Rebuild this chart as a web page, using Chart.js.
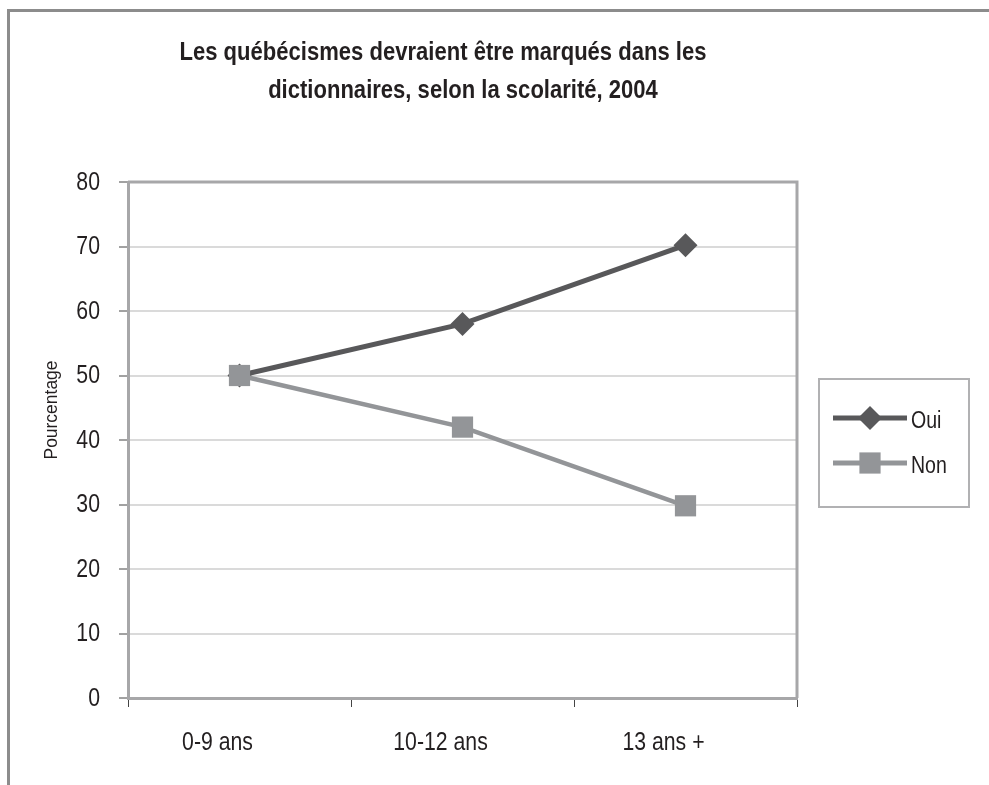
<!DOCTYPE html>
<html>
<head>
<meta charset="utf-8">
<script src="https://cdn.jsdelivr.net/npm/chart.js@4.4.1/dist/chart.umd.min.js"></script>
<style>
  html, body { margin: 0; padding: 0; background: #fff; }
  #wrap { position: relative; width: 989px; height: 785px; overflow: hidden; }
  #frame {
    position: absolute; left: 7px; top: 9px; width: 1100px; height: 900px;
    border-top: 3px solid #8c8c8c; border-left: 3px solid #8c8c8c;
  }
  canvas { position: absolute; left: 0; top: 0; }
</style>
</head>
<body>
<div id="wrap">
  <div id="frame"></div>
  <canvas id="chart" width="989" height="785"></canvas>
</div>
<script>
const categories = ["0-9 ans", "10-12 ans", "13 ans +"];
const ouiValues = [50, 58, 70.2];
const nonValues = [50, 42, 29.8];
const seriesNames = ["Oui", "Non"];
const titleLines = [
  "Les québécismes devraient être marqués dans les",
  "dictionnaires, selon la scolarité, 2004",
];
const yAxisTitle = "Pourcentage";

const fontFamily = "'Liberation Sans', Arial, sans-serif";
const ouiColor = "#58585a";
const nonColor = "#939598";
const axisColor = "#a7a7a9";
const textColor = "#231f20";
// no narrow font installed, so text is squeezed horizontally
const narrow = 0.85;

function narrowText(ctx, text, x, y, align, font, squeeze) {
  ctx.save();
  ctx.font = font;
  ctx.textAlign = align;
  ctx.textBaseline = "middle";
  ctx.translate(x, y);
  ctx.scale(squeeze, 1);
  ctx.fillText(text, 0, 0);
  ctx.restore();
}

const decorations = {
  id: "decorations",
  afterDraw(chart) {
    const ctx = chart.ctx;
    const area = chart.chartArea;
    ctx.save();

    ctx.strokeStyle = axisColor;
    ctx.lineWidth = 3;
    ctx.beginPath();
    ctx.moveTo(area.left, area.top);
    ctx.lineTo(area.right, area.top);
    ctx.lineTo(area.right, area.bottom);
    ctx.stroke();

    ctx.fillStyle = textColor;

    // title, squeezed so the first line spans like the original
    const titleFont = "bold 26px " + fontFamily;
    ctx.font = titleFont;
    const titleSqueeze = 527 / ctx.measureText(titleLines[0]).width;
    narrowText(ctx, titleLines[0], 443, 53, "center", titleFont, titleSqueeze);
    narrowText(ctx, titleLines[1], 463, 91, "center", titleFont, titleSqueeze);

    ctx.save();
    ctx.translate(52, 410);
    ctx.rotate(-Math.PI / 2);
    narrowText(ctx, yAxisTitle, 0, 0, "center", "18px " + fontFamily, 0.97);
    ctx.restore();

    // tick labels
    const tickFont = "25px " + fontFamily;
    const yScale = chart.scales.y;
    yScale.ticks.forEach((tick) => {
      narrowText(ctx, String(tick.value), 100, yScale.getPixelForValue(tick.value) + 1, "right", tickFont, narrow);
    });
    const xScale = chart.scales.x;
    categories.forEach((label, i) => {
      narrowText(ctx, label, xScale.getPixelForValue(i) - 22, 743, "center", tickFont, narrow);
    });

    // legend
    ctx.strokeStyle = "#b1b1b3";
    ctx.lineWidth = 2;
    ctx.strokeRect(819, 379, 150, 128);

    const rows = [
      { name: seriesNames[0], color: ouiColor, y: 418, style: "rectRot", r: 12 },
      { name: seriesNames[1], color: nonColor, y: 463, style: "rect", r: 15 },
    ];
    rows.forEach((row) => {
      ctx.strokeStyle = row.color;
      ctx.lineWidth = 5;
      ctx.beginPath();
      ctx.moveTo(833, row.y);
      ctx.lineTo(907, row.y);
      ctx.stroke();
      ctx.fillStyle = row.color;
      Chart.helpers.drawPoint(ctx, { pointStyle: row.style, radius: row.r, borderWidth: 0 }, 870, row.y);
      ctx.fillStyle = textColor;
      narrowText(ctx, row.name, 911, row.y + 4, "left", "23px " + fontFamily, narrow);
    });

    ctx.restore();
  },
};

new Chart(document.getElementById("chart"), {
  type: "line",
  data: {
    labels: categories,
    datasets: [
      {
        label: seriesNames[0],
        data: ouiValues,
        borderColor: ouiColor,
        backgroundColor: ouiColor,
        borderWidth: 5,
        pointStyle: "rectRot",
        pointRadius: 12,
        pointBorderWidth: 0,
        tension: 0,
        order: 1,
      },
      {
        label: seriesNames[1],
        data: nonValues,
        borderColor: nonColor,
        backgroundColor: nonColor,
        borderWidth: 4.5,
        pointStyle: "rect",
        pointRadius: 15,
        pointBorderWidth: 0,
        tension: 0,
        order: 0,
      },
    ],
  },
  options: {
    responsive: false,
    animation: false,
    devicePixelRatio: 1,
    layout: { padding: { left: 0, top: 182, right: 192, bottom: 0 } },
    plugins: {
      legend: { display: false },
      title: { display: false },
      tooltip: { enabled: false },
    },
    scales: {
      x: {
        offset: true,
        afterFit: (scale) => { scale.height = 87; },
        grid: {
          offset: true,
          drawOnChartArea: false,
          tickLength: 9,
          tickColor: "#444",
          tickWidth: 1,
        },
        border: { color: axisColor, width: 3 },
        ticks: { display: false },
      },
      y: {
        min: 0,
        max: 80,
        afterFit: (scale) => { scale.width = 128; },
        grid: {
          color: "#dadada",
          lineWidth: 2,
          tickLength: 9,
          tickColor: "#444",
          tickWidth: 1,
        },
        border: { color: axisColor, width: 3 },
        ticks: { stepSize: 10, display: false },
      },
    },
  },
  plugins: [decorations],
});
</script>
</body>
</html>
